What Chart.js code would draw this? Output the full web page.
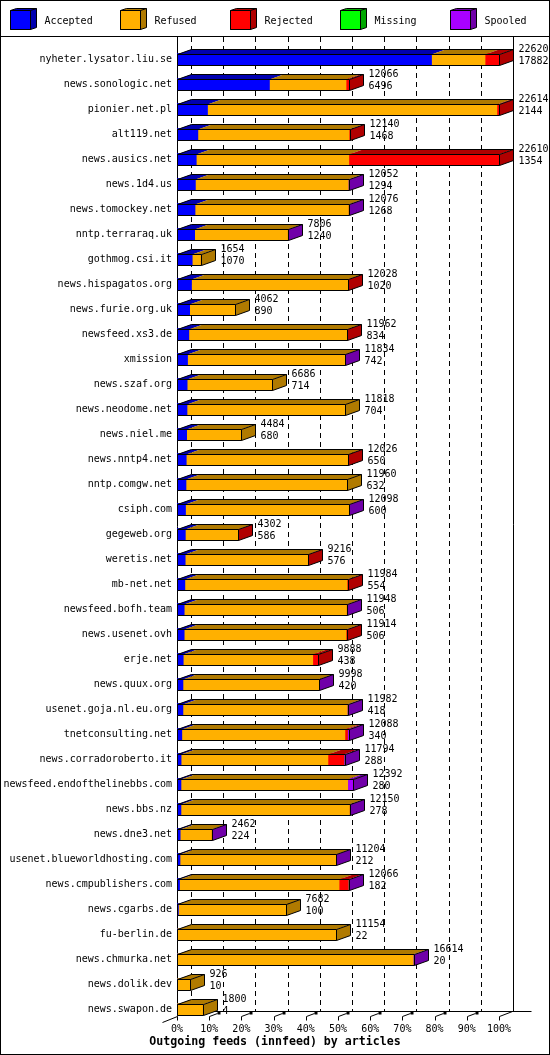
<!DOCTYPE html>
<html>
<head>
<meta charset="utf-8">
<script src="https://cdn.jsdelivr.net/npm/chart.js@4.4.1/dist/chart.umd.min.js"></script>
<style>
html, body { margin: 0; padding: 0; background: #fff; }
#wrap { width: 550px; height: 1055px; }
</style>
</head>
<body>
<div id="wrap"><canvas id="feeds" width="550" height="1055"></canvas></div>
<script>
const hosts = [
    'nyheter.lysator.liu.se', 'news.sonologic.net', 'pionier.net.pl', 'alt119.net',
    'news.ausics.net', 'news.1d4.us', 'news.tomockey.net', 'nntp.terraraq.uk',
    'gothmog.csi.it', 'news.hispagatos.org', 'news.furie.org.uk', 'newsfeed.xs3.de',
    'xmission', 'news.szaf.org', 'news.neodome.net', 'news.niel.me',
    'news.nntp4.net', 'nntp.comgw.net', 'csiph.com', 'gegeweb.org',
    'weretis.net', 'mb-net.net', 'newsfeed.bofh.team', 'news.usenet.ovh',
    'erje.net', 'news.quux.org', 'usenet.goja.nl.eu.org', 'tnetconsulting.net',
    'news.corradoroberto.it', 'newsfeed.endofthelinebbs.com', 'news.bbs.nz', 'news.dne3.net',
    'usenet.blueworldhosting.com', 'news.cmpublishers.com', 'news.cgarbs.de', 'fu-berlin.de',
    'news.chmurka.net', 'news.dolik.dev', 'news.swapon.de'
];
// total offered articles (top number) and accepted (bottom number)
const offered = [
    22620, 12066, 22614, 12140, 22610, 12052, 12076, 7806, 1654, 12028,
    4062, 11962, 11834, 6686, 11818, 4484, 12026, 11960, 12098, 4302,
    9216, 11984, 11948, 11914, 9888, 9998, 11982, 12088, 11794, 12392,
    12150, 2462, 11204, 12066, 7682, 11154, 16614, 926, 1800
];
const accepted = [
    17882, 6496, 2144, 1468, 1354, 1294, 1268, 1240, 1070, 1020,
    890, 834, 742, 714, 704, 680, 650, 632, 600, 586,
    576, 554, 506, 506, 438, 420, 418, 340, 288, 280,
    278, 224, 212, 182, 100, 22, 20, 10, 4
];
const refused = [
    3758, 5380, 20330, 10622, 10716, 10718, 10768, 6526, 584, 10968,
    3172, 11088, 11052, 5972, 11114, 3804, 11336, 11328, 11458, 3676,
    8600, 11390, 11402, 11368, 9100, 9538, 11524, 11458, 10316, 11712,
    11832, 2198, 10952, 11204, 7582, 11132, 16554, 916, 1796
];
const rejected = [
    980, 190, 140, 50, 10540, 0, 0, 0, 0, 40,
    0, 40, 0, 0, 0, 0, 40, 0, 0, 40,
    40, 40, 0, 40, 350, 0, 0, 180, 1120, 0,
    0, 0, 0, 640, 0, 0, 0, 0, 0
];
const missing = [
    0, 0, 0, 0, 0, 0, 0, 0, 0, 0,
    0, 0, 0, 0, 0, 0, 0, 0, 0, 0,
    0, 0, 0, 0, 0, 0, 0, 0, 0, 0,
    0, 0, 0, 0, 0, 0, 0, 0, 0
];
const spooled = [
    0, 0, 0, 0, 0, 40, 40, 40, 0, 0,
    0, 0, 40, 0, 0, 0, 0, 0, 40, 0,
    0, 0, 40, 0, 0, 40, 40, 110, 70, 400,
    40, 40, 40, 40, 0, 0, 40, 0, 0
];
const seriesNames = ['Accepted', 'Refused', 'Rejected', 'Missing', 'Spooled'];
const xMax = 22620;
const pctTicks = ['0%', '10%', '20%', '30%', '40%', '50%', '60%', '70%', '80%', '90%', '100%'];

const frontColors = ['#0000ff', '#ffb000', '#ff0000', '#00ff00', '#a800ff'];
const darkColors = ['#0000b0', '#b07a00', '#b00000', '#00a800', '#7000a8'];
const MONO = '"DejaVu Sans Mono", "Liberation Mono", monospace';
const DX = 14, DY = 5;

function seg(ctx, x1, y1, x2, y2) {
    ctx.beginPath();
    ctx.moveTo(x1, y1);
    ctx.lineTo(x2, y2);
    ctx.stroke();
}

const box3d = {
    id: 'box3d',
    beforeDatasetsDraw(chart) {
        const { ctx, chartArea, scales: { x } } = chart;
        const top = 37;
        const frontFloor = Math.round(chartArea.bottom - 6) + 0.5;
        const backFloor = frontFloor - DY;
        ctx.save();
        ctx.strokeStyle = '#000';
        ctx.lineWidth = 1;

        // back wall grid
        ctx.setLineDash([5, 4]);
        x.ticks.forEach((t, i) => {
            if (i === x.ticks.length - 1) return;
            const px = Math.round(x.getPixelForValue(t.value)) + DX + 0.5;
            seg(ctx, px, top, px, backFloor);
        });
        ctx.setLineDash([]);
        const rightBack = Math.round(x.getPixelForValue(xMax)) + DX + 0.5;
        seg(ctx, rightBack, top, rightBack, backFloor);

        // axis and floor
        const left = Math.round(chartArea.left) + 0.5;
        seg(ctx, left, top, left, frontFloor);
        seg(ctx, left, backFloor, rightBack + 18, backFloor);
        seg(ctx, left - 15, frontFloor + 6, left, frontFloor);
        const rightFront = Math.round(x.getPixelForValue(xMax)) + 0.5;
        seg(ctx, rightFront, frontFloor, rightBack - 1, backFloor);
        x.ticks.forEach((t, i) => {
            const px = Math.round(x.getPixelForValue(t.value)) + 0.5;
            seg(ctx, px, frontFloor, px, frontFloor + 4);
            if (i === 0 || i === x.ticks.length - 1) return;
            seg(ctx, px, frontFloor, px + 8, frontFloor - 3);
            ctx.fillStyle = '#000';
            ctx.fillRect(px + 8, frontFloor - 5, 3, 3);
        });
        ctx.restore();
    },
    afterDatasetsDraw(chart) {
        const { ctx } = chart;
        const sets = chart.data.datasets;
        ctx.save();
        ctx.strokeStyle = '#000';
        ctx.lineWidth = 1;
        hosts.forEach((h, r) => {
            let L = null, R = null, T = null, B = null, lastSet = 0;
            sets.forEach((ds, d) => {
                if (!ds.data[r]) return;
                const el = chart.getDatasetMeta(d).data[r];
                const a = Math.min(el.x, el.base), b = Math.max(el.x, el.base);
                const t = Math.round(el.y - el.height / 2) + 0.5;
                ctx.fillStyle = darkColors[d];
                ctx.beginPath();
                ctx.moveTo(a, t);
                ctx.lineTo(b, t);
                ctx.lineTo(b + DX, t - DY);
                ctx.lineTo(a + DX, t - DY);
                ctx.closePath();
                ctx.fill();
                if (L === null) L = Math.round(a) + 0.5;
                R = Math.round(b) + 0.5;
                T = t;
                B = Math.round(el.y + el.height / 2) - 0.5;
                lastSet = d;
            });
            if (L === null) return;
            ctx.fillStyle = darkColors[lastSet];
            ctx.beginPath();
            ctx.moveTo(R, T);
            ctx.lineTo(R + DX, T - DY);
            ctx.lineTo(R + DX, B - DY);
            ctx.lineTo(R, B);
            ctx.closePath();
            ctx.fill();

            ctx.beginPath();
            ctx.moveTo(L, B);
            ctx.lineTo(L, T);
            ctx.lineTo(L + DX, T - DY);
            ctx.lineTo(R + DX, T - DY);
            ctx.lineTo(R + DX, B - DY);
            ctx.lineTo(R, B);
            ctx.closePath();
            ctx.moveTo(L, T);
            ctx.lineTo(R, T);
            ctx.lineTo(R + DX, T - DY);
            ctx.moveTo(R, T);
            ctx.lineTo(R, B);
            ctx.stroke();

            ctx.fillStyle = '#000';
            ctx.font = '10px ' + MONO;
            ctx.textAlign = 'left';
            ctx.textBaseline = 'middle';
            const yc = (T + B) / 2;
            ctx.fillText(String(offered[r]), R + DX + 5, yc - 10.5);
            ctx.fillText(String(accepted[r]), R + DX + 5, yc + 1.5);
        });
        ctx.restore();
    },
    afterDraw(chart) {
        const { ctx, width, height } = chart;
        ctx.save();
        ctx.strokeStyle = '#000';
        ctx.lineWidth = 1;
        ctx.strokeRect(0.5, 0.5, width - 1, height - 1);
        seg(ctx, 0, 36.5, width, 36.5);
        seriesNames.forEach((name, i) => {
            const lx = 10.5 + 110 * i, ly = 10.5, w = 20, hgt = 19, dx = 6, dy = 2;
            ctx.fillStyle = frontColors[i];
            ctx.fillRect(lx, ly, w, hgt);
            ctx.fillStyle = darkColors[i];
            ctx.beginPath();
            ctx.moveTo(lx, ly); ctx.lineTo(lx + dx, ly - dy); ctx.lineTo(lx + w + dx, ly - dy);
            ctx.lineTo(lx + w + dx, ly + hgt - dy); ctx.lineTo(lx + w, ly + hgt); ctx.lineTo(lx + w, ly);
            ctx.closePath();
            ctx.fill();
            ctx.beginPath();
            ctx.moveTo(lx, ly); ctx.lineTo(lx + dx, ly - dy); ctx.lineTo(lx + w + dx, ly - dy);
            ctx.lineTo(lx + w + dx, ly + hgt - dy); ctx.lineTo(lx + w, ly + hgt); ctx.lineTo(lx, ly + hgt);
            ctx.closePath();
            ctx.moveTo(lx + w, ly); ctx.lineTo(lx + w, ly + hgt);
            ctx.moveTo(lx + w, ly); ctx.lineTo(lx + w + dx, ly - dy);
            ctx.rect(lx, ly, w, hgt);
            ctx.stroke();
            ctx.fillStyle = '#000';
            ctx.font = '10px ' + MONO;
            ctx.textAlign = 'left';
            ctx.textBaseline = 'middle';
            ctx.fillText(name, lx + 34, 21);
        });
        ctx.restore();
    }
};

const seriesData = [accepted, refused, rejected, missing, spooled];

new Chart(document.getElementById('feeds'), {
    type: 'bar',
    data: {
        labels: hosts,
        datasets: seriesNames.map((name, i) => ({
            label: name,
            data: seriesData[i],
            backgroundColor: frontColors[i],
            borderWidth: 0,
            barThickness: 12
        }))
    },
    options: {
        indexAxis: 'y',
        responsive: false,
        devicePixelRatio: 1,
        animation: false,
        layout: { padding: { left: 0, top: 47, right: 0, bottom: 0 } },
        plugins: {
            legend: { display: false },
            tooltip: { enabled: false },
            title: {
                display: true,
                position: 'bottom',
                text: 'Outgoing feeds (innfeed) by articles',
                color: '#000',
                font: { family: MONO, size: 11.6, weight: 'bold', lineHeight: 1.2 },
                padding: { top: 0, bottom: 6 }
            }
        },
        scales: {
            x: {
                stacked: true,
                min: 0,
                max: xMax,
                afterBuildTicks: (scale) => {
                    scale.ticks = pctTicks.map((t, i) => ({ value: xMax * i / 10 }));
                },
                grid: { display: false, drawTicks: false },
                border: { display: false },
                ticks: {
                    color: '#000',
                    padding: 1,
                    maxRotation: 0,
                    autoSkip: false,
                    font: { family: MONO, size: 10 },
                    callback: (v, i) => pctTicks[i]
                },
                afterFit: (scale) => { scale.height = 33 - (11.6 * 1.2 + 6); }
            },
            y: {
                stacked: true,
                grid: { display: false, drawTicks: false },
                border: { display: false },
                ticks: {
                    color: '#000',
                    padding: 5,
                    autoSkip: false,
                    font: { family: MONO, size: 10 }
                },
                afterFit: (scale) => { scale.width = 177; }
            },
            // empty right-hand axis keeps room for the count labels
            yRight: {
                type: 'category',
                position: 'right',
                labels: hosts,
                grid: { display: false, drawTicks: false },
                border: { display: false },
                ticks: { display: false },
                afterFit: (scale) => { scale.width = 51; }
            }
        }
    },
    plugins: [box3d]
});
</script>
</body>
</html>
